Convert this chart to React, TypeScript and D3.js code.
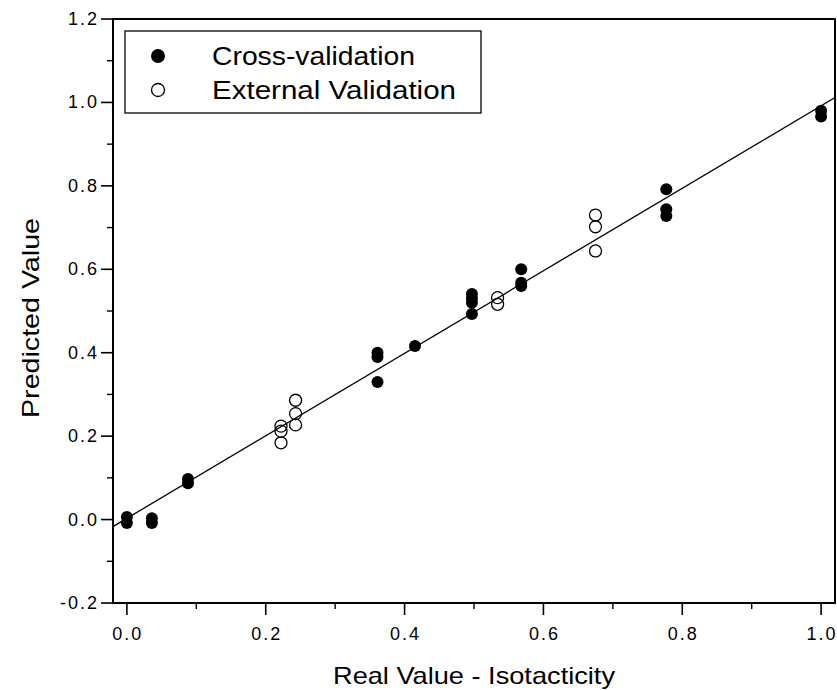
import React from "react";
import * as d3 from "d3";

// ---- data ----
const crossX = [0, 0, 0.036, 0.036, 0.088, 0.088, 0.361, 0.361, 0.361, 0.415, 0.497, 0.497, 0.497, 0.497, 0.568, 0.568, 0.568, 0.777, 0.777, 0.777, 1.0, 1.0];
const crossY = [0.006, -0.008, 0.003, -0.008, 0.097, 0.087, 0.40, 0.39, 0.33, 0.416, 0.541, 0.530, 0.520, 0.493, 0.600, 0.568, 0.560, 0.792, 0.744, 0.728, 0.980, 0.966];
const externalX = [0.222, 0.222, 0.222, 0.243, 0.243, 0.243, 0.534, 0.534, 0.675, 0.675, 0.675];
const externalY = [0.224, 0.212, 0.184, 0.286, 0.254, 0.227, 0.532, 0.516, 0.730, 0.702, 0.644];
const fitSlope = 0.989;
const fitIntercept = 0.003;

const xMajor = [0, 0.2, 0.4, 0.6, 0.8, 1.0];
const xMajorLabels = ["0.0", "0.2", "0.4", "0.6", "0.8", "1.0"];
const xMinor = [0.1, 0.3, 0.5, 0.7, 0.9];
const yMajor = [-0.2, 0, 0.2, 0.4, 0.6, 0.8, 1.0, 1.2];
const yMajorLabels = ["-0.2", "0.0", "0.2", "0.4", "0.6", "0.8", "1.0", "1.2"];
const yMinor = [-0.1, 0.1, 0.3, 0.5, 0.7, 0.9, 1.1];

const seriesNames = ["Cross-validation", "External Validation"];
const xTitle = "Real Value - Isotacticity";
const yTitle = "Predicted Value";

const FONT = "'Liberation Sans', Arial, Helvetica, sans-serif";

export default function App() {
  const W = 837, H = 690;
  const left = 113, right = 835, top = 19, bottom = 603;
  const x = d3.scaleLinear().domain([-0.02, 1.02]).range([left, right]);
  const y = d3.scaleLinear().domain([-0.2, 1.2]).range([bottom, top]);
  const xd = x.domain();
  const fitLine = d3.line<number>().x((d) => x(d)).y((d) => y(fitIntercept + fitSlope * d));
  const fitPts = [xd[0], xd[1]];
  const r = 6;

  return (
    <svg width={W} height={H} style={{ position: "absolute", left: 0, top: 0, background: "#fff" }} fontFamily={FONT}>
      <defs>
        <clipPath id="plot">
          <rect x={left} y={top} width={right - left} height={bottom - top} />
        </clipPath>
      </defs>
      {/* fit line */}
      <path d={fitLine(fitPts) || ""} stroke="#000" strokeWidth={1.3} fill="none" clipPath="url(#plot)" />
      {/* cross validation points */}
      {crossX.map((v, i) => (
        <circle key={"c" + i} cx={x(v)} cy={y(crossY[i])} r={r} fill="#000" />
      ))}
      {/* external validation points */}
      {externalX.map((v, i) => (
        <circle key={"e" + i} cx={x(v)} cy={y(externalY[i])} r={r} fill="none" stroke="#000" strokeWidth={1.3} />
      ))}
      {/* frame */}
      <rect x={left} y={top} width={right - left} height={bottom - top} fill="none" stroke="#000" strokeWidth={2} />
      {/* x ticks */}
      {xMajor.map((v, i) => (
        <g key={"xm" + i}>
          <line x1={x(v)} x2={x(v)} y1={bottom} y2={bottom + 12} stroke="#000" strokeWidth={1.6} />
          <text x={x(v) + 1} y={634} textAnchor="middle" dominantBaseline="central" fontSize={18} letterSpacing={2}>
            {xMajorLabels[i]}
          </text>
        </g>
      ))}
      {xMinor.map((v, i) => (
        <line key={"xn" + i} x1={x(v)} x2={x(v)} y1={bottom} y2={bottom + 6} stroke="#000" strokeWidth={1.4} />
      ))}
      {/* y ticks */}
      {yMajor.map((v, i) => (
        <g key={"ym" + i}>
          <line x1={left - 12} x2={left} y1={y(v)} y2={y(v)} stroke="#000" strokeWidth={1.6} />
          <text x={99} y={y(v)} textAnchor="end" dominantBaseline="central" fontSize={18} letterSpacing={2}>
            {yMajorLabels[i]}
          </text>
        </g>
      ))}
      {yMinor.map((v, i) => (
        <line key={"yn" + i} x1={left - 6} x2={left} y1={y(v)} y2={y(v)} stroke="#000" strokeWidth={1.4} />
      ))}
      {/* axis titles */}
      <text x={(left + right) / 2} y={675} textAnchor="middle" dominantBaseline="central" fontSize={24} textLength={282} lengthAdjust="spacingAndGlyphs">
        {xTitle}
      </text>
      <text transform={`translate(30, 318) rotate(-90)`} textAnchor="middle" dominantBaseline="central" fontSize={24} textLength={200} lengthAdjust="spacingAndGlyphs">
        {yTitle}
      </text>
      {/* legend */}
      <rect x={125} y={31} width={356} height={82} fill="#fff" stroke="#000" strokeWidth={1.3} />
      <circle cx={158} cy={56} r={7} fill="#000" />
      <circle cx={158} cy={90} r={6.5} fill="none" stroke="#000" strokeWidth={1.3} />
      <text x={212} y={56} dominantBaseline="central" fontSize={26} textLength={203} lengthAdjust="spacingAndGlyphs">
        {seriesNames[0]}
      </text>
      <text x={212} y={90} dominantBaseline="central" fontSize={26} textLength={244} lengthAdjust="spacingAndGlyphs">
        {seriesNames[1]}
      </text>
    </svg>
  );
}
